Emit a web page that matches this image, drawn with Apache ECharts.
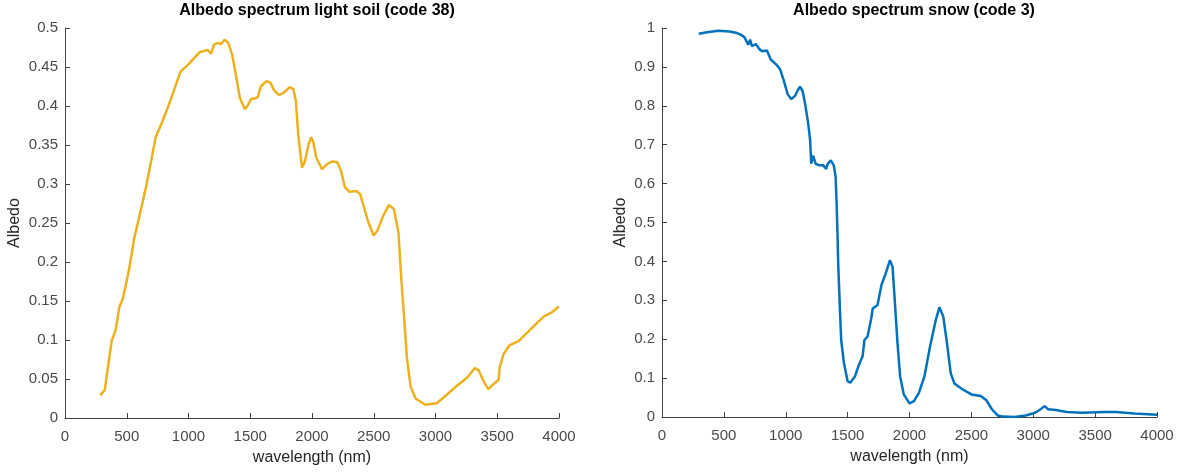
<!DOCTYPE html>
<html>
<head>
<meta charset="utf-8">
<script src="https://cdn.jsdelivr.net/npm/echarts@6/dist/echarts.min.js"></script>
<style>
  html, body { margin: 0; padding: 0; background: #fff; }
  #chart { width: 1178px; height: 472px; }
</style>
</head>
<body>
<div id="chart"></div>
<script>
// light soil (code 38): wavelength nm / albedo
const soilWl = [285, 322, 378, 409, 440, 470, 517, 548, 557, 594, 656, 703, 734, 780, 842, 935, 997, 1090, 1152, 1183, 1207, 1245, 1263, 1291, 1322, 1353, 1384, 1415, 1455, 1477, 1508, 1539, 1560, 1585, 1632, 1663, 1694, 1734, 1771, 1817, 1848, 1870, 1888, 1919, 1941, 1972, 1994, 2012, 2034, 2081, 2127, 2167, 2204, 2235, 2266, 2303, 2359, 2390, 2421, 2452, 2498, 2529, 2576, 2622, 2663, 2700, 2724, 2746, 2768, 2799, 2839, 2916, 3009, 3071, 3164, 3257, 3319, 3350, 3387, 3427, 3474, 3511, 3520, 3551, 3598, 3675, 3784, 3876, 3938, 4000]
const soilAlb = [0.029, 0.036, 0.099, 0.112, 0.142, 0.154, 0.189, 0.218, 0.228, 0.253, 0.296, 0.334, 0.36, 0.377, 0.402, 0.444, 0.453, 0.469, 0.472, 0.467, 0.479, 0.481, 0.479, 0.485, 0.481, 0.466, 0.44, 0.411, 0.396, 0.4, 0.409, 0.41, 0.411, 0.425, 0.432, 0.43, 0.42, 0.414, 0.417, 0.424, 0.422, 0.406, 0.364, 0.321, 0.328, 0.351, 0.36, 0.353, 0.334, 0.319, 0.326, 0.329, 0.328, 0.317, 0.296, 0.29, 0.291, 0.287, 0.27, 0.253, 0.234, 0.24, 0.259, 0.273, 0.268, 0.238, 0.176, 0.129, 0.078, 0.04, 0.025, 0.017, 0.019, 0.027, 0.04, 0.052, 0.064, 0.061, 0.048, 0.037, 0.044, 0.049, 0.065, 0.082, 0.093, 0.099, 0.116, 0.13, 0.135, 0.143]

// snow (code 3)
const snowWl = [297, 364, 455, 545, 606, 636, 667, 682, 697, 712, 727, 758, 788, 812, 848, 879, 924, 954, 985, 1015, 1045, 1076, 1097, 1115, 1136, 1157, 1182, 1197, 1206, 1221, 1242, 1273, 1303, 1327, 1339, 1364, 1388, 1403, 1412, 1418, 1424, 1439, 1448, 1470, 1500, 1521, 1560, 1591, 1621, 1636, 1661, 1691, 1703, 1742, 1773, 1812, 1842, 1863, 1879, 1903, 1924, 1954, 2000, 2036, 2076, 2121, 2166, 2212, 2242, 2273, 2303, 2333, 2363, 2424, 2500, 2576, 2621, 2666, 2712, 2757, 2848, 2939, 3015, 3060, 3091, 3121, 3182, 3272, 3394, 3576, 3667, 3818, 4000]
const snowAlb = [0.985, 0.989, 0.993, 0.991, 0.987, 0.983, 0.976, 0.972, 0.957, 0.97, 0.953, 0.959, 0.945, 0.94, 0.942, 0.919, 0.906, 0.894, 0.864, 0.83, 0.817, 0.826, 0.84, 0.849, 0.838, 0.804, 0.753, 0.711, 0.651, 0.672, 0.651, 0.647, 0.647, 0.638, 0.651, 0.66, 0.647, 0.617, 0.54, 0.472, 0.394, 0.266, 0.198, 0.139, 0.092, 0.088, 0.105, 0.134, 0.156, 0.198, 0.207, 0.254, 0.279, 0.288, 0.339, 0.373, 0.403, 0.386, 0.309, 0.19, 0.105, 0.058, 0.035, 0.041, 0.062, 0.105, 0.181, 0.249, 0.282, 0.258, 0.19, 0.113, 0.086, 0.072, 0.058, 0.054, 0.043, 0.02, 0.004, 0.001, 0, 0.004, 0.011, 0.02, 0.028, 0.02, 0.018, 0.013, 0.011, 0.013, 0.013, 0.009, 0.006]

const titles = ['Albedo spectrum light soil (code 38)', 'Albedo spectrum snow (code 3)']

const axisColor = '#404040'
const font = 'Liberation Sans, Arial, Helvetica, sans-serif'

function pairs(xs, ys) {
  return xs.map((x, i) => [x, ys[i]])
}

function xAx(idx) {
  return {
    type: 'value', gridIndex: idx, min: 0, max: 4000, interval: 500,
    name: 'wavelength (nm)', nameLocation: 'middle', nameGap: 32,
    nameTextStyle: { color: '#262626', fontSize: 16, fontFamily: font },
    axisLine: { show: true, lineStyle: { color: axisColor, width: 1 } },
    axisTick: { show: true, inside: true, length: 5, lineStyle: { color: axisColor } },
    axisLabel: { color: '#4a4a4a', fontSize: 15, fontFamily: font, margin: 11,
      formatter: v => String(v) },
    splitLine: { show: false }
  }
}

function yAx(idx, max, interval, gap) {
  return {
    type: 'value', gridIndex: idx, min: 0, max: max, interval: interval,
    name: 'Albedo', nameLocation: 'middle', nameGap: gap,
    nameTextStyle: { color: '#262626', fontSize: 16, fontFamily: font },
    axisLine: { show: true, lineStyle: { color: axisColor, width: 1 } },
    axisTick: { show: true, inside: true, length: 5, lineStyle: { color: axisColor } },
    axisLabel: { color: '#4a4a4a', fontSize: 15, fontFamily: font, margin: 7,
      formatter: v => String(+v.toFixed(2)) },
    splitLine: { show: false }
  }
}

const chart = echarts.init(document.getElementById('chart'))
chart.setOption({
  animation: false,
  backgroundColor: '#fff',
  title: [
    { text: titles[0], left: 312, top: -2, textAlign: 'center',
      textStyle: { fontSize: 16, fontWeight: 'bold', color: '#000', fontFamily: font } },
    { text: titles[1], left: 909, top: -2, textAlign: 'center',
      textStyle: { fontSize: 16, fontWeight: 'bold', color: '#000', fontFamily: font } }
  ],
  grid: [
    { left: 65, right: 619, top: 28, bottom: 54 },
    { left: 662, right: 21, top: 28, bottom: 55 }
  ],
  xAxis: [xAx(0), xAx(1)],
  yAxis: [yAx(0, 0.5, 0.05, 42), yAx(1, 1, 0.1, 33)],
  series: [
    { type: 'line', xAxisIndex: 0, yAxisIndex: 0, data: pairs(soilWl, soilAlb),
      showSymbol: false, lineStyle: { color: '#EDB120', width: 2.5 }, itemStyle: { color: '#EDB120' } },
    { type: 'line', xAxisIndex: 1, yAxisIndex: 1, data: pairs(snowWl, snowAlb),
      showSymbol: false, lineStyle: { color: '#0072BD', width: 2.5 }, itemStyle: { color: '#0072BD' } }
  ]
})
</script>
</body>
</html>
